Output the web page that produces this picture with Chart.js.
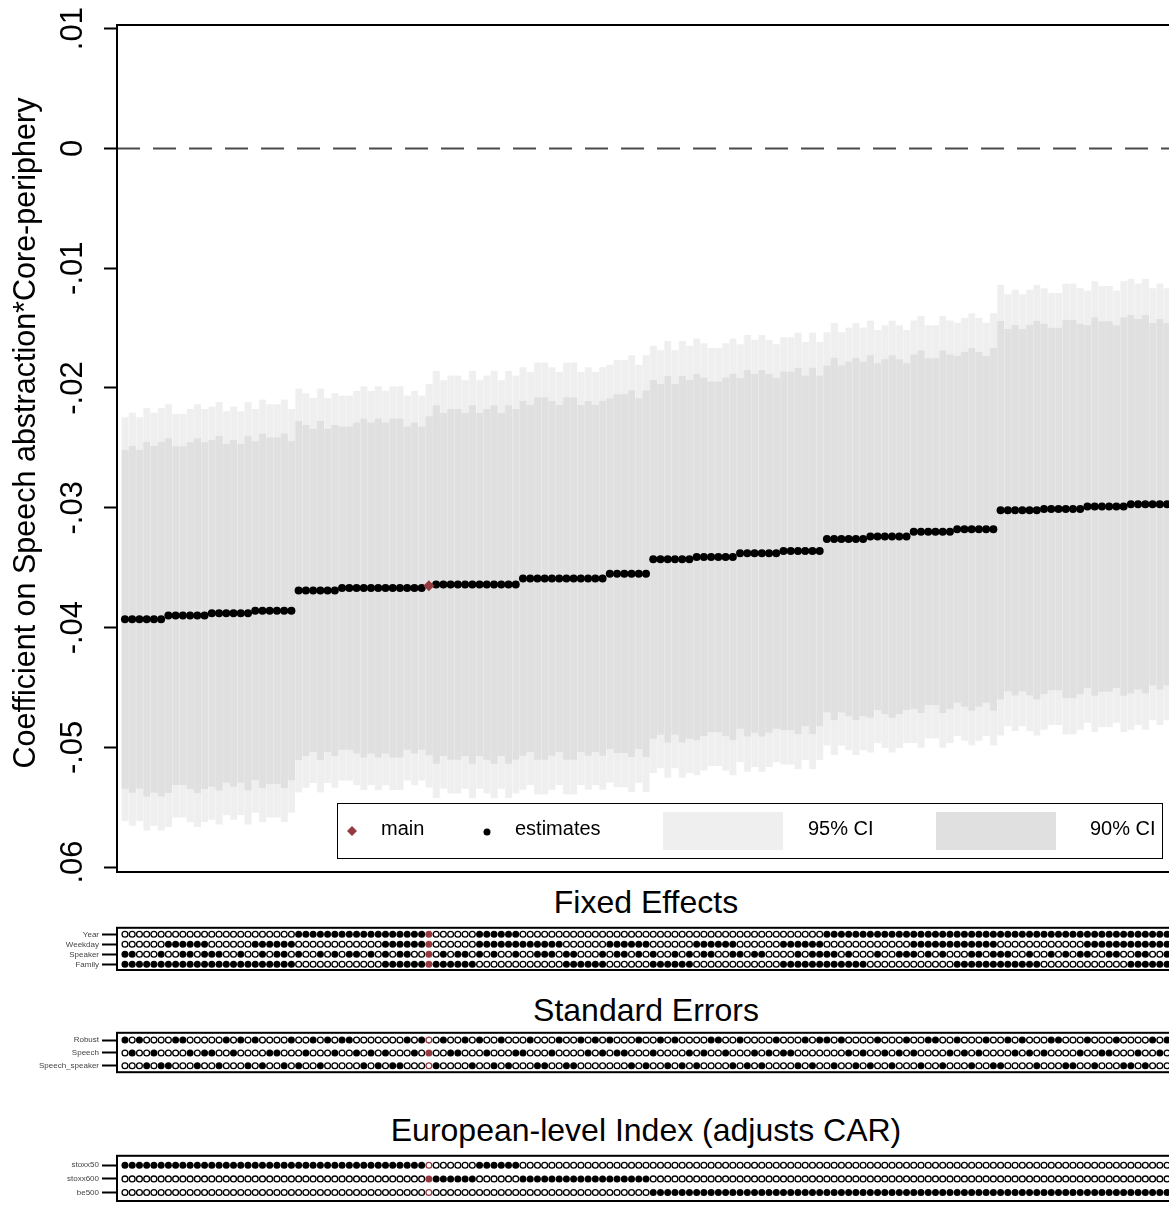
<!DOCTYPE html>
<html>
<head>
<meta charset="utf-8">
<title>Specification curve: Speech abstraction x Core-periphery</title>
<script src="https://cdn.jsdelivr.net/npm/chart.js@4.4.1/dist/chart.umd.min.js"></script>
<style>
  html, body { margin:0; padding:0; background:#fff; overflow:hidden; }
  #page { position:relative; width:1169px; height:1215px; overflow:hidden; background:#fff;
          font-family:"Liberation Sans", Arial, Helvetica, sans-serif; }
  canvas { position:absolute; left:0; }
  .ptitle { position:absolute; left:117px; width:1058px; text-align:center; font-size:32px;
            color:#000; line-height:32px; white-space:nowrap; }
</style>
</head>
<body>
<div id="page">
  <canvas id="cMain" width="1185" height="884" style="top:0"></canvas>
  <div class="ptitle" style="top:886px">Fixed Effects</div>
  <canvas id="cFE" width="1185" height="60" style="top:920px"></canvas>
  <div class="ptitle" style="top:994px">Standard Errors</div>
  <canvas id="cSE" width="1185" height="55" style="top:1025px"></canvas>
  <div class="ptitle" style="top:1114px">European-level Index (adjusts CAR)</div>
  <canvas id="cIX" width="1185" height="67" style="top:1148px"></canvas>
</div>
<script>
// ---- data: one entry per specification, sorted by the estimate ----
const mainSpec = 42;

const estimate = [
  -0.0393,-0.0393,-0.0393,-0.0393,-0.0393,-0.0393,
  -0.0390,-0.0390,-0.0390,-0.0390,-0.0390,-0.0390,
  -0.0388,-0.0388,-0.0388,-0.0388,-0.0388,-0.0388,
  -0.0386,-0.0386,-0.0386,-0.0386,-0.0386,-0.0386,
  -0.0369,-0.0369,-0.0369,-0.0369,-0.0369,-0.0369,
  -0.0367,-0.0367,-0.0367,-0.0367,-0.0367,-0.0367,
  -0.0367,-0.0367,-0.0367,-0.0367,-0.0367,-0.0367,
  -0.0365,
  -0.0364,-0.0364,-0.0364,-0.0364,-0.0364,-0.0364,
  -0.0364,-0.0364,-0.0364,-0.0364,-0.0364,-0.0364,
  -0.0359,-0.0359,-0.0359,-0.0359,-0.0359,-0.0359,
  -0.0359,-0.0359,-0.0359,-0.0359,-0.0359,-0.0359,
  -0.0355,-0.0355,-0.0355,-0.0355,-0.0355,-0.0355,
  -0.0343,-0.0343,-0.0343,-0.0343,-0.0343,-0.0343,
  -0.0341,-0.0341,-0.0341,-0.0341,-0.0341,-0.0341,
  -0.0338,-0.0338,-0.0338,-0.0338,-0.0338,-0.0338,
  -0.0336,-0.0336,-0.0336,-0.0336,-0.0336,-0.0336,
  -0.0326,-0.0326,-0.0326,-0.0326,-0.0326,-0.0326,
  -0.0324,-0.0324,-0.0324,-0.0324,-0.0324,-0.0324,
  -0.0320,-0.0320,-0.0320,-0.0320,-0.0320,-0.0320,
  -0.0318,-0.0318,-0.0318,-0.0318,-0.0318,-0.0318,
  -0.0302,-0.0302,-0.0302,-0.0302,-0.0302,-0.0302,
  -0.0301,-0.0301,-0.0301,-0.0301,-0.0301,-0.0301,
  -0.0299,-0.0299,-0.0299,-0.0299,-0.0299,-0.0299,
  -0.0297,-0.0297,-0.0297,-0.0297,-0.0297,-0.0297
];

// standard error of each estimate (sets the width of both interval bars)
const stdErr = [
  0.0086,0.0088,0.0086,0.0090,0.0088,0.0090,
  0.0090,0.0086,0.0086,0.0088,0.0090,0.0088,
  0.0088,0.0090,0.0086,0.0088,0.0086,0.0090,
  0.0086,0.0090,0.0088,0.0088,0.0090,0.0086,
  0.0086,0.0084,0.0082,0.0086,0.0082,0.0084,
  0.0082,0.0082,0.0084,0.0086,0.0084,0.0086,
  0.0084,0.0086,0.0086,0.0082,0.0084,0.0082,
  0.0086,
  0.0091,0.0087,0.0089,0.0089,0.0087,0.0091,
  0.0087,0.0089,0.0091,0.0087,0.0091,0.0089,
  0.0090,0.0088,0.0092,0.0092,0.0090,0.0088,
  0.0092,0.0092,0.0088,0.0090,0.0088,0.0090,
  0.0089,0.0091,0.0091,0.0093,0.0089,0.0093,
  0.0091,0.0089,0.0093,0.0089,0.0093,0.0091,
  0.0093,0.0091,0.0089,0.0089,0.0091,0.0093,
  0.0089,0.0093,0.0091,0.0093,0.0091,0.0089,
  0.0091,0.0091,0.0093,0.0089,0.0093,0.0089,
  0.0088,0.0092,0.0088,0.0090,0.0092,0.0090,
  0.0092,0.0088,0.0090,0.0092,0.0090,0.0088,
  0.0090,0.0092,0.0088,0.0088,0.0092,0.0090,
  0.0088,0.0090,0.0092,0.0090,0.0088,0.0092,
  0.0096,0.0092,0.0094,0.0092,0.0094,0.0096,
  0.0094,0.0092,0.0092,0.0096,0.0096,0.0094,
  0.0092,0.0096,0.0094,0.0094,0.0092,0.0096,
  0.0096,0.0094,0.0096,0.0092,0.0094,0.0092
];
const z95 = 1.96, z90 = 1.645;

const yTickValues = [0.01, 0, -0.01, -0.02, -0.03, -0.04, -0.05, -0.06];
const yTickLabels = ['.01', '0', '-.01', '-.02', '-.03', '-.04', '-.05', '-.06'];

// indicator rows (1 = included / chosen), one character per specification,
// written in blocks of six with the main specification as its own block
const feRows = ['Year', 'Weekday', 'Speaker', 'Family'];
const feYear = [
  '000000','000000','000000','000000','111111','111111','111111', '1',
  '000000','111111','000000','000000','000000','000000','000000','000000','000000',
  '111111','111111','111111','111111','111111','111111','111111','111111'].join('');
const feWeekday = [
  '000000','111111','000000','111111','000000','000000','111111', '1',
  '000000','111111','111111','000000','111111','000000','111111','000000','111111',
  '000000','000000','111111','111111','000000','000000','111111','111111'].join('');
const feSpeaker = [
  '110001','001101','110010','010110','100101','011010','101100', '1',
  '010110','101001','001110','110001','011010','100101','011001','101100','001011',
  '110100','010011','101010','001101','110010','010101','100110','011001'].join('');
const feFamily = [
  '111111','111111','111111','111111','000000','000000','111111', '1',
  '111111','000000','000000','111111','000000','111111','000000','000000','111111',
  '111111','000000','000000','111111','111111','000000','000000','111111'].join('');

const seRows = ['Robust', 'Speech', 'Speech_speaker'];
const seRobust = [
  '101000','011000','001010','100001','001010','110000','000101', '0',
  '010010','100100','010001','001010','100010','010100','001100','100001','000101',
  '101000','010001','001100','100010','010100','011000','100010','000101'].join('');
const seSpeech = [
  '010010','000101','100100','001100','010001','001010','100010', '1',
  '001100','010001','100010','000101','011000','100001','010010','001010','110000',
  '000101','001010','100001','010100','001010','100001','001100','010010'].join('');
const seSpeechSpeaker = [
  '000101','100010','010001','010010','100100','000101','011000', '0',
  '100001','001010','001100','110000','000101','001010','100001','010100','001010',
  '010010','100100','010010','001001','100001','000110','010001','101000'].join('');

const ixRows = ['stoxx50', 'stoxx600', 'be500'];
const ixStoxx50 = [
  '111111','111111','111111','111111','111111','111111','111111', '0',
  '000000','111111','000000','000000','000000','000000','000000','000000','000000',
  '000000','000000','000000','000000','000000','000000','000000','000000'].join('');
const ixStoxx600 = [
  '000000','000000','000000','000000','000000','000000','000000', '1',
  '111111','000000','111111','111111','111111','000000','000000','000000','000000',
  '000000','000000','000000','000000','000000','000000','000000','000000'].join('');
const ixBe500 = [
  '000000','000000','000000','000000','000000','000000','000000', '0',
  '000000','000000','000000','000000','000000','111111','111111','111111','111111',
  '111111','111111','111111','111111','111111','111111','111111','111111'].join('');

// ---- shared look ----
const FONT = '"Liberation Sans", Arial, Helvetica, sans-serif';
const RED = '#953a40';
const GREY95 = '#efefef';
const GREY90 = '#e0e0e0';
const xMin = -1.1, xMax = 145.1;
const AXIS_W = 117;
Chart.defaults.font.family = FONT;

const specX = estimate.map((_, i) => i);

// floating interval bars, built from estimate and standard error
const ci95 = specX.map(i => ({ x: i, y: [estimate[i] - z95 * stdErr[i], estimate[i] + z95 * stdErr[i]] }));
const ci90 = specX.map(i => ({ x: i, y: [estimate[i] - z90 * stdErr[i], estimate[i] + z90 * stdErr[i]] }));
const estPts = specX.filter(i => i !== mainSpec).map(i => ({ x: i, y: estimate[i] }));
const mainPt = [{ x: mainSpec, y: estimate[mainSpec] }];

const framePlugin = {
  id: 'frame',
  afterDatasetsDraw(chart) {
    const a = chart.chartArea, c = chart.ctx;
    c.save();
    c.strokeStyle = '#000';
    c.lineWidth = 2;
    c.strokeRect(a.left, a.top, a.right - a.left, a.bottom - a.top);
    c.restore();
  }
};

const zeroLinePlugin = {
  id: 'zeroLine',
  beforeDatasetsDraw(chart) {
    const y = chart.scales.y.getPixelForValue(0), a = chart.chartArea, c = chart.ctx;
    c.save();
    c.strokeStyle = '#4a4a4a';
    c.lineWidth = 2;
    c.setLineDash([23, 13]);
    c.beginPath();
    c.moveTo(a.left, y);
    c.lineTo(a.right, y);
    c.stroke();
    c.restore();
  }
};

// rotated tick labels and rotated axis title
const yTextPlugin = {
  id: 'yText',
  afterDraw(chart) {
    const s = chart.scales.y, c = chart.ctx;
    c.save();
    c.fillStyle = '#000';
    c.font = '31px ' + FONT;
    c.textAlign = 'center';
    c.textBaseline = 'alphabetic';
    s.ticks.forEach((t, k) => {
      const py = s.getPixelForValue(t.value);
      c.save();
      c.translate(82, py);
      c.rotate(-Math.PI / 2);
      c.fillText(yTickLabels[k], 0, 0);
      c.restore();
    });
    c.save();
    c.font = '30.5px ' + FONT;
    c.translate(35, 433);
    c.rotate(-Math.PI / 2);
    c.fillText('Coefficient on Speech abstraction*Core-periphery', 0, 0);
    c.restore();
    c.restore();
  }
};

const legendPlugin = {
  id: 'boxLegend',
  afterDraw(chart) {
    const c = chart.ctx;
    c.save();
    c.fillStyle = '#fff';
    c.fillRect(337, 803, 825, 55);
    c.strokeStyle = '#000';
    c.lineWidth = 1;
    c.strokeRect(337.5, 803.5, 825, 55);
    // main marker (diamond)
    c.fillStyle = RED;
    c.beginPath();
    c.moveTo(352, 826); c.lineTo(357, 831); c.lineTo(352, 836); c.lineTo(347, 831);
    c.closePath(); c.fill();
    // estimate marker
    c.fillStyle = '#000';
    c.beginPath(); c.arc(487, 832, 3.5, 0, Math.PI * 2); c.fill();
    // interval swatches
    c.fillStyle = GREY95; c.fillRect(663, 812, 120, 38);
    c.fillStyle = GREY90; c.fillRect(936, 812, 120, 38);
    c.fillStyle = '#000';
    c.font = '20px ' + FONT;
    c.textBaseline = 'middle';
    c.textAlign = 'left';
    c.fillText('main', 381, 829);
    c.fillText('estimates', 515, 829);
    c.fillText('95% CI', 808, 829);
    c.fillText('90% CI', 1090, 829);
    c.restore();
  }
};

new Chart(document.getElementById('cMain'), {
  type: 'bar',
  data: {
    datasets: [
      { type: 'scatter', label: 'main', data: mainPt, pointStyle: 'rectRot', pointRadius: 5.5,
        backgroundColor: RED, borderColor: RED, borderWidth: 0, order: 0 },
      { type: 'scatter', label: 'estimates', data: estPts, pointStyle: 'circle', pointRadius: 4,
        backgroundColor: '#000', borderColor: '#000', borderWidth: 0, order: 1 },
      { label: '90% CI', data: ci90, backgroundColor: GREY90, borderColor: 'rgba(0,0,0,0.045)',
        borderWidth: { left: 1, right: 0, top: 0, bottom: 0 }, borderSkipped: false,
        barPercentage: 1, categoryPercentage: 1, grouped: false, order: 2 },
      { label: '95% CI', data: ci95, backgroundColor: GREY95, borderColor: 'rgba(0,0,0,0.03)',
        borderWidth: { left: 1, right: 0, top: 0, bottom: 0 }, borderSkipped: false,
        barPercentage: 1, categoryPercentage: 1, grouped: false, order: 3 }
    ]
  },
  options: {
    responsive: false, animation: false, devicePixelRatio: 1, events: [],
    layout: { padding: { top: 25, bottom: 12, left: 0, right: 10 } },
    plugins: { legend: { display: false }, tooltip: { enabled: false } },
    scales: {
      x: { type: 'linear', min: xMin, max: xMax, offset: false, display: false },
      y: {
        type: 'linear', min: -0.0604, max: 0.0103,
        afterBuildTicks: s => { s.ticks = yTickValues.map(v => ({ value: v })); },
        afterFit: s => { s.width = AXIS_W; },
        ticks: { display: false },
        grid: { drawOnChartArea: false, drawTicks: true, tickLength: 13, tickWidth: 2, tickColor: '#000' },
        border: { display: true, color: '#000', width: 2 }
      }
    }
  },
  plugins: [zeroLinePlugin, framePlugin, yTextPlugin, legendPlugin]
});

// ---- indicator panels ----
function indicatorChart(id, rowNames, rowBits, yMin, yMax, padTop, padBottom) {
  const filled = [], open = [], mainFilled = [], mainOpen = [];
  rowBits.forEach((bits, r) => {
    for (let i = 0; i < bits.length; i++) {
      const pt = { x: i, y: r + 1 };
      const on = bits[i] === '1';
      if (i === mainSpec) (on ? mainFilled : mainOpen).push(pt);
      else (on ? filled : open).push(pt);
    }
  });
  new Chart(document.getElementById(id), {
    type: 'scatter',
    data: {
      datasets: [
        { data: open, pointRadius: 2.9, borderWidth: 1.3, backgroundColor: '#fff', borderColor: '#000' },
        { data: filled, pointRadius: 3.5, borderWidth: 0, backgroundColor: '#000', borderColor: '#000' },
        { data: mainOpen, pointRadius: 2.9, borderWidth: 1.3, backgroundColor: '#fff', borderColor: RED },
        { data: mainFilled, pointRadius: 3.5, borderWidth: 0, backgroundColor: RED, borderColor: RED }
      ]
    },
    options: {
      responsive: false, animation: false, devicePixelRatio: 1, events: [],
      layout: { padding: { top: padTop, bottom: padBottom, left: 0, right: 10 } },
      plugins: { legend: { display: false }, tooltip: { enabled: false } },
      scales: {
        x: { type: 'linear', min: xMin, max: xMax, display: false },
        y: {
          type: 'linear', reverse: true, min: yMin, max: yMax,
          afterBuildTicks: s => { s.ticks = rowNames.map((_, r) => ({ value: r + 1 })); },
          afterFit: s => { s.width = AXIS_W; },
          ticks: { callback: (v, k) => rowNames[k], font: { size: 8, family: FONT }, color: '#444', padding: 3 },
          grid: { drawOnChartArea: false, drawTicks: true, tickLength: 15, tickWidth: 2, tickColor: '#000' },
          border: { display: true, color: '#000', width: 2 }
        }
      }
    },
    plugins: [framePlugin]
  });
}

indicatorChart('cFE', feRows, [feYear, feWeekday, feSpeaker, feFamily], 0.35, 4.57, 5, 10);
indicatorChart('cSE', seRows, [seRobust, seSpeech, seSpeechSpeaker], 0.43, 3.5, 5, 7);
indicatorChart('cIX', ixRows, [ixStoxx50, ixStoxx600, ixBe500], 0.31, 3.62, 5, 14);
</script>
</body>
</html>
